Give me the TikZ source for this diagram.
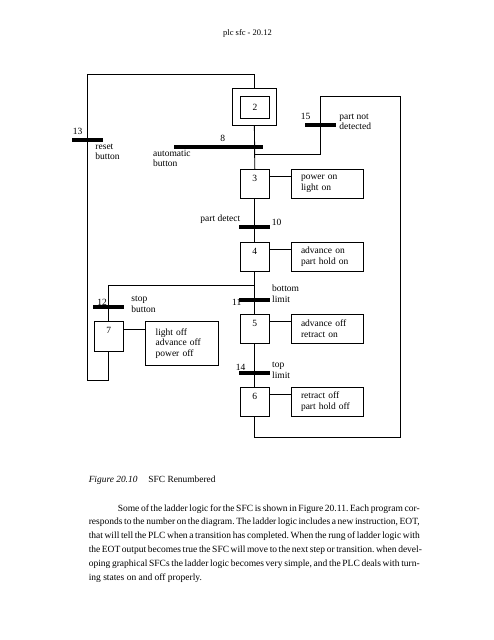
\documentclass[tikz,border=0pt]{standalone}
\usepackage{fontspec}
\setmainfont{Liberation Serif}
\frenchspacing
\newcommand\lblfont{\fontsize{9.5}{10.6}\selectfont}
\newcommand\bline[1]{\hbox to 331pt{#1}}
\begin{document}
\begin{tikzpicture}[x=1pt,y=-1pt,line width=0.9pt,
  stepbox/.style={draw,minimum width=29.4pt,minimum height=29pt,inner sep=0pt},
  actbox/.style={draw,text width=52.7pt,inner xsep=10pt,inner ysep=0pt,minimum height=29pt,align=left,font=\lblfont},
  bar/.style={fill=black,inner sep=0pt,minimum height=4.2pt},
  lbl/.style={inner sep=0pt,font=\lblfont,align=left,anchor=west},
  num/.style={inner sep=0pt,font=\lblfont},
  steplabel/.style={label={[num,anchor=center,yshift=-9.7pt]north:#1}}]
\useasboundingbox (0,0) rectangle (494,640);

% header
\node[inner sep=0pt,anchor=base,font=\fontsize{8.5}{10}\selectfont] (hdr) at (247.5,35.3) {plc sfc - 20.12};

% steps
\node[stepbox,minimum width=44.2pt,minimum height=37pt] (s2o) at (254.4,106.75) {};
\node[stepbox,minimum height=22.5pt,font=\lblfont] (s2) at (255,107.3) {2};
\node[stepbox,steplabel=3] (s3) at (254.8,183.8) {};
\node[stepbox,steplabel=4] (s4) at (254.8,256.5) {};
\node[stepbox,steplabel=5] (s5) at (254.8,328.65) {};
\node[stepbox,steplabel=6] (s6) at (254.8,401.65) {};
\node[stepbox,steplabel=7,minimum height=29.7pt] (s7) at (108.8,336.15) {};

% actions
\node[actbox] (a3) at (327.35,183.8) {power on\\light on};
\node[actbox] (a4) at (327.35,256.5) {advance on\\part hold on};
\node[actbox] (a5) at (327.35,328.65) {advance off\\retract on};
\node[actbox] (a6) at (327.35,401.65) {retract off\\part hold off};
\node[actbox,minimum height=44pt] (a7) at (182,343.3) {light off\\advance off\\power off};

\foreach \s in {3,4,5,6}
  \draw ([yshift=-7.4pt]s\s.north east) -- ([yshift=-7.4pt]a\s.north west);
\draw ([yshift=-8.4pt]s7.north east) -- ([yshift=-8.4pt]a7.north west);

% flow lines
\coordinate (b1) at (254.8,154.3);
\coordinate (b2) at (254.8,285.3);
\coordinate (L1) at (87.3,380);
\coordinate (L2) at (87.3,74.3);
\coordinate (R1) at (320.3,96.3);
\coordinate (R2) at (400.3,437.7);
\draw (s7.south) |- (L1) -- (L2) -| (s2o.north);
\draw (s2o.south) -- (s3.north);
\draw (s3.south) -- (s4.north);
\draw (s4.south) -- (s5.north);
\draw (s5.south) -- (s6.north);
\draw (b1) -| (R1) -| (R2) -| (s6.south);
\draw (b2) -| (s7.north);

% transitions
\node[bar,minimum width=88.7pt] (t8) at (218.35,147.3) {};
\node[bar,minimum width=31pt] (t13) at (87.2,140) {};
\node[bar,minimum width=30.7pt] (t15) at (320.35,125) {};
\node[bar,minimum width=30.7pt] (t10) at (254.65,227) {};
\node[bar,minimum width=30.7pt] (t11) at (254.65,300.3) {};
\node[bar,minimum width=30.7pt] (t14) at (254.65,373.3) {};
\node[bar,minimum width=31pt] (t12) at (108.8,307.3) {};

% transition labels
\node[num] (n13) at (77.7,131) {13};
\node[lbl] (c13) at (95,151.7) {reset\\button};
\node[num] (n8) at (222.7,138) {8};
\node[lbl] (c8) at (152.7,158.5) {automatic\\button};
\node[num] (n15) at (305.7,116) {15};
\node[lbl] (c15) at (339,122) {part not\\detected};
\node[lbl,anchor=east] (c10) at (240.7,219.3) {part detect};
\node[num] (n10) at (276.7,222.3) {10};
\node[lbl] (c11) at (271.7,293.5) {bottom\\limit};
\node[num] (n11) at (236.7,302) {11};
\node[num] (n14) at (240.7,367.7) {14};
\node[lbl] (c14) at (271.7,370.5) {top\\limit};
\node[num] (n12) at (102,302.3) {12};
\node[lbl] (c12) at (131,304.3) {stop\\button};

% caption
\node[inner sep=0pt,anchor=base west,font=\fontsize{9.4}{11}\selectfont] (cap) at (88.3,482.3) {\textit{Figure 20.10}\hspace{11pt}SFC Renumbered};

% body text
\node[inner sep=0pt,anchor=north west,align=left,font=\fontsize{9.5}{13.8}\selectfont] (body) at (88.3,504) {%
\bline{\hspace*{29pt}Some of the ladder logic for the SFC is shown in Figure 20.11. Each program cor-}\\
\bline{responds to the number on the diagram. The ladder logic includes a new instruction, EOT,}\\
\bline{that will tell the PLC when a transition has completed. When the rung of ladder logic with}\\
\bline{the EOT output becomes true the SFC will move to the next step or transition. when devel-}\\
\bline{oping graphical SFCs the ladder logic becomes very simple, and the PLC deals with turn-}\\
ing states on and off properly.};
\end{tikzpicture}
\end{document}
